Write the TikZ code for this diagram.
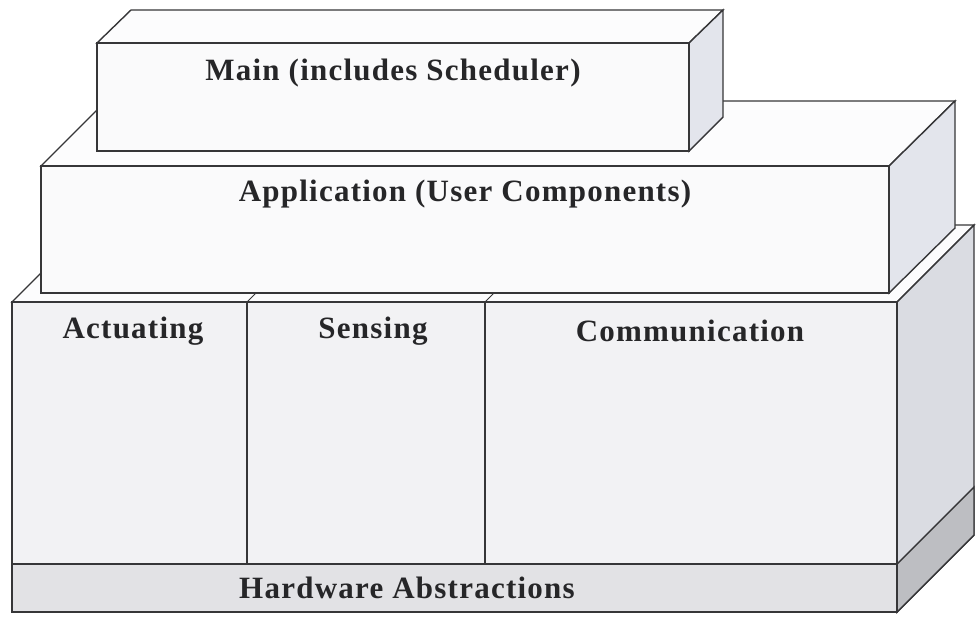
\documentclass[tikz,border=0pt]{standalone}
\usepackage{fontspec}
\setmainfont{Liberation Serif}[LetterSpace=4]
\definecolor{linegray}{HTML}{363638}
\definecolor{textgray}{HTML}{262628}
\definecolor{topfill}{HTML}{FCFCFD}
\definecolor{frontfill}{HTML}{FAFAFB}
\definecolor{cellfill}{HTML}{F2F2F4}
\definecolor{hwfill}{HTML}{E2E2E5}
\definecolor{sidefill}{HTML}{E3E5EC}
\definecolor{lowsidefill}{HTML}{DADCE2}
\definecolor{hwsidefill}{HTML}{BDBEC2}
\begin{document}
\begin{tikzpicture}[x=1pt,y=-1pt,
  edge/.style={draw=linegray, line width=1.4pt, line join=miter},
  topface/.style={edge, fill=topfill},
  sideface/.style={edge, fill=sidefill},
  frontface/.style={edge, fill=frontfill},
  cellface/.style={edge, fill=cellfill},
  lbl/.style={font=\fontsize{31}{36}\selectfont\bfseries, text=textgray, inner sep=0pt}
]
\useasboundingbox (0,0) rectangle (977,625);
\fill[white] (0,0) rectangle (977,625);

% ---- lower block: drivers and hardware abstractions (depth 77) ----
\draw[topface] (12,302) -- (89,225) -- (974,225) -- (897,302) -- cycle;
\draw[edge, line width=1pt] (247,302) -- ++(77,-77);
\draw[edge, line width=1pt] (485,302) -- ++(77,-77);
\draw[edge, fill=lowsidefill] (897,302) -- (974,225) -- (974,535) -- (897,612) -- cycle;
\draw[edge, fill=hwsidefill] (897,564) -- (974,487) -- (974,535) -- (897,612) -- cycle;
\draw[cellface] (12,302) rectangle (247,564);
\draw[cellface] (247,302) rectangle (485,564);
\draw[cellface] (485,302) rectangle (897,564);
\draw[edge, fill=hwfill] (12,564) rectangle (897,612);

\node[lbl] (act) at (133,331) {Actuating};
\node[lbl] (sens) at (373,331) {Sensing};
\node[lbl] (comm) at (690,331) {Communication};
\node[lbl] (hw) at (407,588) {Hardware Abstractions};

% ---- application layer (depth 65) ----
\draw[topface] (41,166) -- (106,101) -- (955,101) -- (889,166) -- cycle;
\draw[sideface] (889,166) -- (955,101) -- (955,228) -- (889,293) -- cycle;
\draw[frontface] (41,166) rectangle (889,293);
\node[lbl] (app) at (465,194) {Application (User Components)};

% ---- main with scheduler (depth 34) ----
\draw[topface] (97,43) -- (131,10) -- (723,10) -- (689,43) -- cycle;
\draw[sideface] (689,43) -- (723,10) -- (723,117) -- (689,151) -- cycle;
\draw[frontface] (97,43) rectangle (689,151);
\node[lbl] (main) at (393,73) {Main (includes Scheduler)};
\end{tikzpicture}
\end{document}
